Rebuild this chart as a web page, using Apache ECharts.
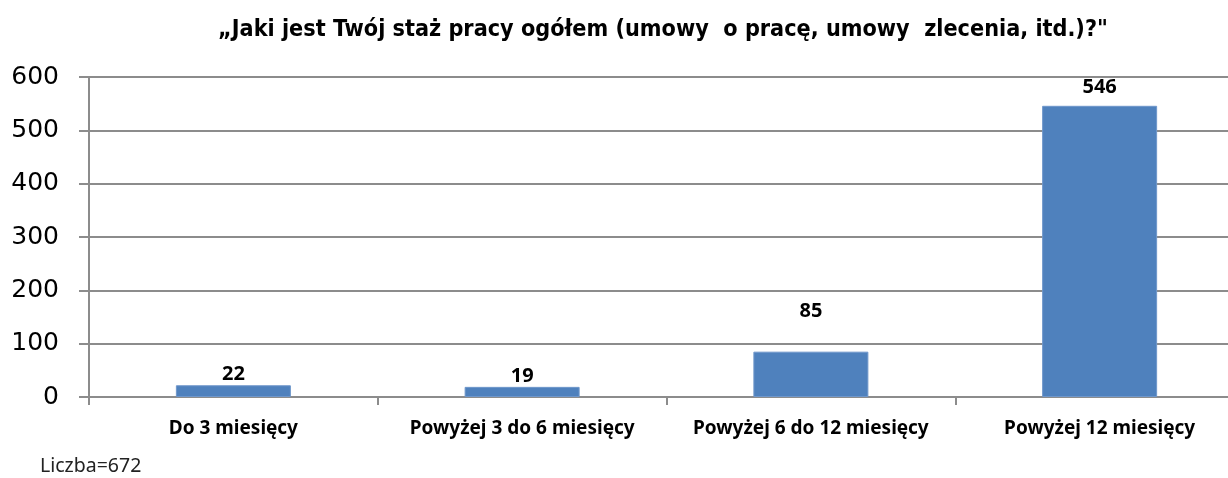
<!DOCTYPE html>
<html>
<head>
<meta charset="utf-8">
<script src="https://cdn.jsdelivr.net/npm/echarts@6/dist/echarts.min.js"></script>
<style>
  html, body { margin: 0; padding: 0; background: #fff; overflow: hidden; }
  /* obszar wykresu wychodzi za prawą krawędź, jak w oryginale */
  #chart { width: 1244px; height: 478px; }
</style>
</head>
<body>
<div id="chart"></div>
<script>
// dane
const categories = ['Do 3 miesięcy', 'Powyżej 3 do 6 miesięcy', 'Powyżej 6 do 12 miesięcy', 'Powyżej 12 miesięcy']
const values = [22, 19, 85, 546]
const yTicks = [0, 100, 200, 300, 400, 500, 600]
const titleText = '„Jaki jest Twój staż pracy ogółem (umowy  o pracę, umowy  zlecenia, itd.)?"'
const footnote = 'Liczba=672'

// odstęp etykiet nad słupkami (jak w oryginale)
const labelGaps = [1, 1, 30, 9]

const chart = echarts.init(document.getElementById('chart'))

const option = {
  animation: false,
  title: [
    {
      text: titleText,
      left: 663,
      top: 18,
      padding: 0,
      textAlign: 'center',
      textStyle: {
        fontFamily: 'DejaVu Sans Condensed',
        fontWeight: 'bold',
        fontSize: 23.2,
        color: '#000'
      }
    },
    {
      text: footnote,
      left: 40,
      top: 456,
      padding: 0,
      textStyle: {
        fontFamily: 'Noto Sans',
        fontWeight: 'normal',
        fontSize: 19.5,
        color: '#222'
      }
    }
  ],
  grid: {
    left: 89,
    top: 77,
    right: 0,
    height: 320,
    containLabel: false
  },
  xAxis: {
    type: 'category',
    data: categories,
    axisLine: { lineStyle: { color: '#8c8c8c', width: 2 } },
    axisTick: { show: true, length: 8, lineStyle: { color: '#8c8c8c', width: 2 } },
    axisLabel: {
      interval: 0,
      margin: 22,
      fontFamily: 'Noto Sans',
      fontWeight: 'bold',
      fontSize: 19,
      color: '#000'
    }
  },
  yAxis: {
    type: 'value',
    min: 0,
    max: 600,
    interval: 100,
    axisLine: { show: true, lineStyle: { color: '#8c8c8c', width: 2 } },
    axisTick: { show: true, length: 10, lineStyle: { color: '#8c8c8c', width: 2 } },
    splitLine: { lineStyle: { color: '#8c8c8c', width: 2 } },
    axisLabel: {
      margin: 30,
      fontFamily: 'DejaVu Sans',
      fontSize: 25,
      color: '#000',
      formatter: v => yTicks.includes(v) ? String(v) : ''
    }
  },
  series: [
    {
      type: 'bar',
      barWidth: 115,
      data: values.map((v, i) => ({
        value: v,
        label: { distance: labelGaps[i] }
      })),
      itemStyle: {
        color: '#4f81bd',
        borderColor: '#6f97cb',
        borderWidth: 1
      },
      label: {
        show: true,
        position: 'top',
        fontFamily: 'Noto Sans',
        fontWeight: 'bold',
        fontSize: 20,
        color: '#000'
      }
    }
  ]
}

chart.setOption(option)
</script>
</body>
</html>
